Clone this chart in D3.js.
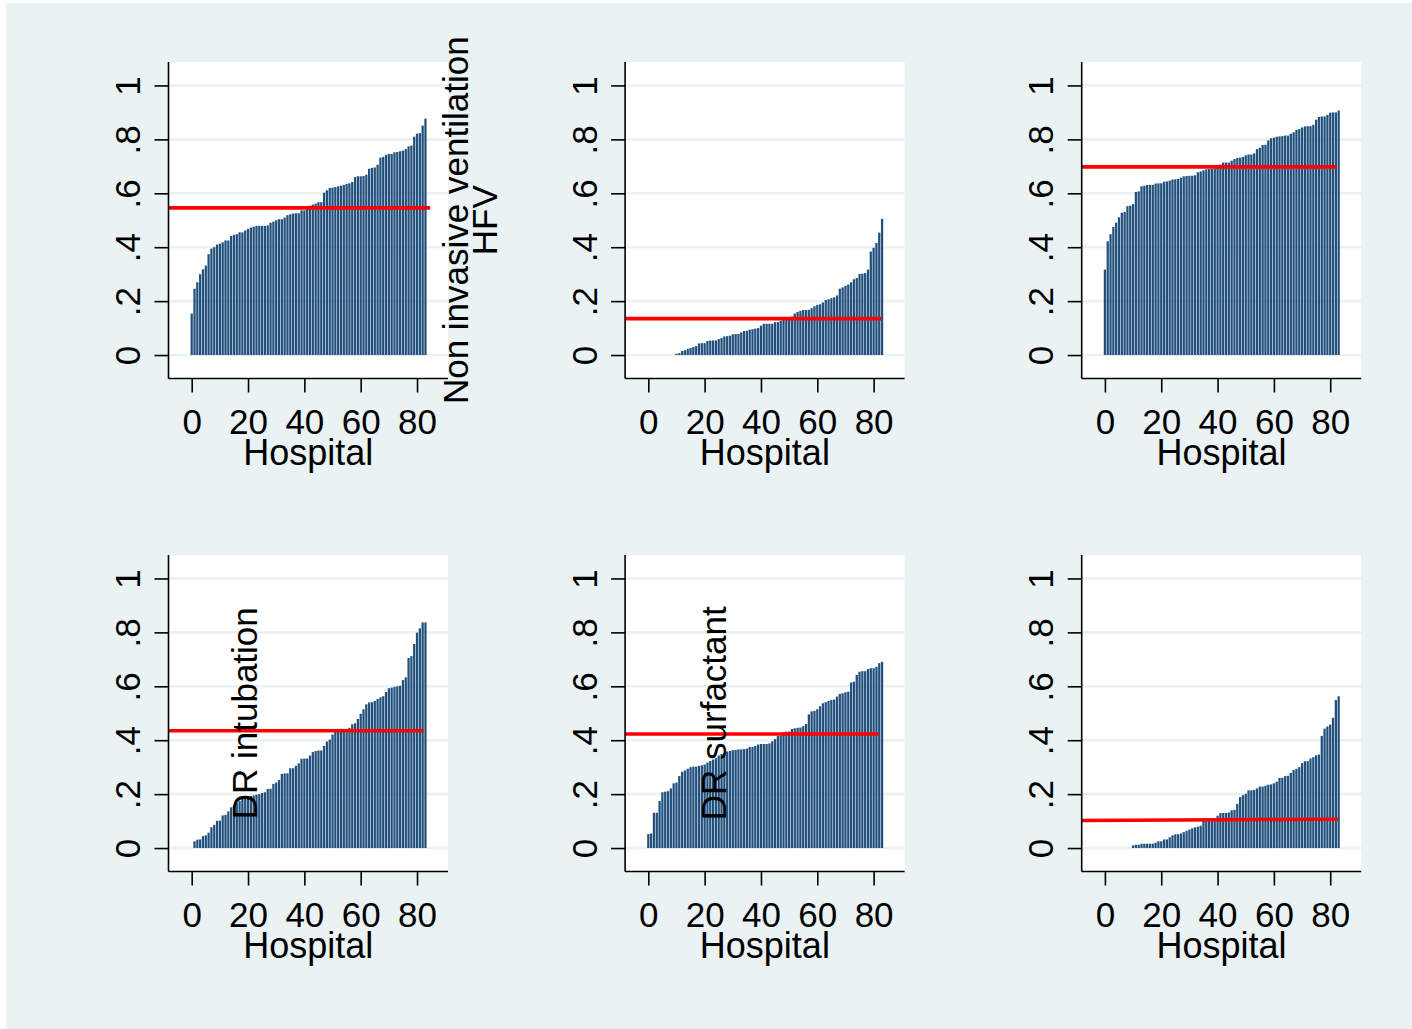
<!DOCTYPE html>
<html>
<head>
<meta charset="utf-8">
<script src="https://cdn.jsdelivr.net/npm/d3@7"></script>
<style>
  body { margin: 0; background: #ffffff; }
  text { font-family: "Liberation Sans", Arial, Helvetica, sans-serif; fill: #000; }
</style>
</head>
<body>
<svg id="chart" width="1412" height="1029"></svg>
<script>
// ---- data -------------------------------------------------------------
const hospitalIds = d3.range(84);
const yTicks = [0, 0.2, 0.4, 0.6, 0.8, 1];
const yTickLabels = ["0", ".2", ".4", ".6", ".8", "1"];
const xTicks = [0, 20, 40, 60, 80];
const xTitle = "Hospital";

// share per hospital, hospitals sorted by share
const ratesPanel1 = [0.154,0.246,0.27,0.30,0.318,0.332,0.374,0.395,0.40,0.41,
  0.413,0.418,0.425,0.425,0.442,0.446,0.448,0.455,0.455,0.462,
  0.468,0.473,0.476,0.479,0.479,0.479,0.479,0.481,0.491,0.495,
  0.50,0.504,0.504,0.51,0.519,0.522,0.525,0.526,0.526,0.537,
  0.537,0.552,0.554,0.558,0.562,0.567,0.567,0.602,0.611,0.62,
  0.621,0.623,0.626,0.628,0.631,0.635,0.637,0.642,0.66,0.663,
  0.663,0.664,0.669,0.691,0.694,0.696,0.706,0.732,0.735,0.743,
  0.746,0.746,0.752,0.753,0.756,0.758,0.764,0.774,0.777,0.81,
  0.821,0.823,0.851,0.877];
const ratesPanel2 = [0,0,0,0,0,0,0,0,0,0,
  0.005,0.007,0.015,0.018,0.023,0.026,0.03,0.033,0.043,0.044,
  0.044,0.052,0.054,0.054,0.054,0.059,0.063,0.069,0.07,0.072,
  0.077,0.078,0.078,0.084,0.089,0.09,0.094,0.096,0.098,0.10,
  0.109,0.116,0.116,0.116,0.116,0.122,0.122,0.127,0.131,0.136,0.141,
  0.143,0.154,0.16,0.164,0.167,0.167,0.168,0.174,0.181,0.186,
  0.188,0.195,0.204,0.207,0.211,0.214,0.221,0.246,0.251,0.257,
  0.262,0.27,0.281,0.286,0.301,0.302,0.304,0.317,0.384,0.398,
  0.416,0.454,0.505];
const ratesPanel3 = [0.317,0.422,0.448,0.475,0.491,0.511,0.528,0.531,0.552,0.554,
  0.56,0.605,0.607,0.626,0.628,0.631,0.631,0.631,0.636,0.637,
  0.637,0.643,0.644,0.647,0.651,0.652,0.653,0.658,0.663,0.664,
  0.665,0.665,0.667,0.678,0.681,0.685,0.689,0.69,0.691,0.693,0.702,
  0.707,0.714,0.714,0.714,0.721,0.727,0.731,0.732,0.735,0.741,
  0.744,0.744,0.748,0.764,0.769,0.779,0.78,0.796,0.804,0.806,
  0.81,0.811,0.812,0.814,0.814,0.821,0.826,0.835,0.838,0.844,
  0.848,0.849,0.849,0.854,0.873,0.883,0.885,0.885,0.891,0.899,
  0.90,0.90,0.907];
const ratesPanel4 = [0,0.025,0.031,0.032,0.044,0.047,0.057,0.077,0.086,0.101,
  0.102,0.121,0.123,0.136,0.151,0.158,0.167,0.174,0.183,0.189,
  0.191,0.193,0.195,0.198,0.20,0.204,0.207,0.219,0.22,0.238,
  0.243,0.252,0.275,0.277,0.277,0.296,0.296,0.305,0.314,0.331,
  0.332,0.332,0.343,0.356,0.36,0.362,0.362,0.379,0.395,0.402,0.421,
  0.431,0.442,0.442,0.442,0.442,0.446,0.459,0.463,0.479,0.498,
  0.515,0.533,0.54,0.541,0.546,0.553,0.559,0.563,0.579,0.593,
  0.595,0.598,0.60,0.602,0.623,0.633,0.705,0.712,0.757,0.799,
  0.815,0.837,0.837];
const ratesPanel5 = [0.052,0.054,0.131,0.131,0.175,0.207,0.209,0.211,0.221,0.24,
  0.243,0.267,0.283,0.288,0.294,0.30,0.302,0.302,0.305,0.307,
  0.31,0.317,0.323,0.328,0.333,0.343,0.349,0.352,0.358,0.36,
  0.363,0.364,0.366,0.366,0.367,0.369,0.375,0.375,0.379,0.384,
  0.386,0.386,0.386,0.388,0.396,0.404,0.416,0.417,0.43,0.432,
  0.432,0.442,0.444,0.446,0.447,0.452,0.46,0.496,0.507,0.509,
  0.515,0.526,0.537,0.541,0.546,0.549,0.551,0.562,0.572,0.574,
  0.578,0.58,0.614,0.617,0.642,0.654,0.656,0.656,0.664,0.667,
  0.667,0.672,0.686,0.691];
const ratesPanel6 = [0,0,0,0,0,0,0,0,0,0,
  0.01,0.012,0.012,0.016,0.016,0.016,0.016,0.016,0.02,0.025,
  0.025,0.032,0.032,0.04,0.047,0.051,0.051,0.054,0.059,0.064,
  0.069,0.073,0.077,0.079,0.083,0.10,0.10,0.10,0.102,0.105,
  0.12,0.13,0.13,0.13,0.132,0.14,0.142,0.164,0.189,0.196,
  0.201,0.214,0.214,0.216,0.221,0.228,0.228,0.231,0.235,0.236,
  0.24,0.246,0.26,0.261,0.267,0.268,0.279,0.289,0.294,0.30,
  0.315,0.322,0.322,0.332,0.337,0.344,0.347,0.416,0.443,0.451,
  0.458,0.483,0.549,0.563];

// overall mean line per panel (value at the left and right end)
const meanLineStart = [0.546, 0.135, 0.698, 0.435, 0.423, 0.102];
const meanLineEnd   = [0.546, 0.135, 0.698, 0.435, 0.423, 0.107];
const meanLineLastHospital = [84.6, 82.7, 82.3, 82.3, 81.7, 82.7];

// rotated captions that sit over the panels
const captionLines = [["Non invasive ventilation", "HFV"], [], [], ["DR intubation"], ["DR surfactant"], []];

const panelRates = [ratesPanel1, ratesPanel2, ratesPanel3, ratesPanel4, ratesPanel5, ratesPanel6];

// ---- layout -----------------------------------------------------------
const svg = d3.select("#chart");
const W = 1412, H = 1029;
const plotW = 279.5, plotH = 316.5;
const colLeft = [168.5, 625.1, 1081.7];
const rowTop = [62, 555];
const xDomain = [-8.24, 91.0];
const yDomain = [-0.087, 1.087];
const fontSize = 35;
const captionX = [299.5, null, null, 88.5, 101, null]; // baseline offset from plot left
const bg = "#eaf2f3";

svg.append("rect").attr("x", 6).attr("y", 3).attr("width", W - 6).attr("height", H - 3).attr("fill", bg);

panelRates.forEach((rates, p) => {
  const col = p % 3, row = Math.floor(p / 3);
  const left = colLeft[col], top = rowTop[row];
  const x = d3.scaleLinear().domain(xDomain).range([left, left + plotW]);
  const y = d3.scaleLinear().domain(yDomain).range([top + plotH, top]);
  const g = svg.append("g");

  // plot region
  g.append("rect").attr("x", left).attr("y", top).attr("width", plotW).attr("height", plotH).attr("fill", "#ffffff");

  // horizontal grid
  g.append("g").selectAll("line").data(yTicks).join("line")
    .attr("x1", left).attr("x2", left + plotW)
    .attr("y1", d => y(d)).attr("y2", d => y(d))
    .attr("stroke", bg).attr("stroke-width", 2.6);

  // bars
  const barW = 0.8 * (x(1) - x(0));
  g.append("g").selectAll("rect").data(hospitalIds.filter(i => rates[i] > 0)).join("rect")
    .attr("x", i => x(i) - barW / 2)
    .attr("width", barW)
    .attr("y", i => y(rates[i]))
    .attr("height", i => y(0) - y(rates[i]))
    .attr("fill", "#22507c");

  // mean line
  g.append("line")
    .attr("x1", x(xDomain[0])).attr("x2", x(meanLineLastHospital[p]))
    .attr("y1", y(meanLineStart[p])).attr("y2", y(meanLineEnd[p]))
    .attr("stroke", "#ff0000").attr("stroke-width", 3.6);

  // y axis
  const yAxis = d3.axisLeft(y).tickValues(yTicks).tickSize(14).tickFormat((d, i) => yTickLabels[i]);
  const ya = g.append("g").attr("transform", `translate(${left},0)`).call(yAxis);
  ya.select(".domain").attr("d", `M0,${top}V${top + plotH}`).attr("stroke", "#000").attr("stroke-width", 1.6);
  ya.selectAll(".tick line").attr("stroke", "#000").attr("stroke-width", 1.6);
  ya.selectAll(".tick text")
    .attr("x", null).attr("dy", null)
    .attr("transform", "translate(-28.5,0) rotate(-90)")
    .attr("text-anchor", "middle")
    .style("font-size", fontSize + "px")
    .attr("fill", "#000");

  // x axis
  const xAxis = d3.axisBottom(x).tickValues(xTicks).tickSize(14).tickFormat(d3.format("d"));
  const xa = g.append("g").attr("transform", `translate(0,${top + plotH})`).call(xAxis);
  xa.select(".domain").attr("d", `M${left},0H${left + plotW}`).attr("stroke", "#000").attr("stroke-width", 1.6);
  xa.selectAll(".tick line").attr("stroke", "#000").attr("stroke-width", 1.6);
  xa.selectAll(".tick text").attr("y", 55).attr("dy", null)
    .style("font-size", fontSize + "px").attr("fill", "#000");

  g.append("text")
    .attr("x", left + plotW / 2).attr("y", top + plotH + 86)
    .attr("text-anchor", "middle").style("font-size", (fontSize + 1) + "px")
    .text(xTitle);
});

// captions drawn last so they sit above neighbouring plot regions
panelRates.forEach((rates, p) => {
  const lines = captionLines[p];
  if (!lines.length) return;
  const col = p % 3, row = Math.floor(p / 3);
  const left = colLeft[col], top = rowTop[row];
  const cy = top + plotH / 2;
  const bx = left + captionX[p];
  lines.forEach((t, k) => {
    svg.append("text")
      .attr("transform", `translate(${bx + k * 28.5},${cy}) rotate(-90)`)
      .attr("text-anchor", "middle")
      .style("font-size", fontSize + "px")
      .text(t);
  });
});
</script>
</body>
</html>
